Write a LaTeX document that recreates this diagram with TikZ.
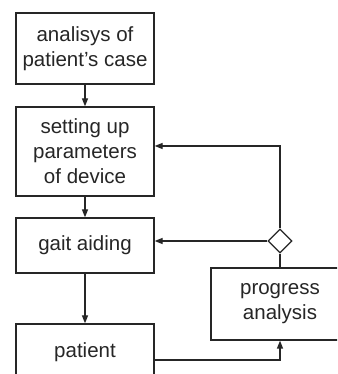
\documentclass[tikz,border=0pt]{standalone}
\usepackage{fontspec}
\setmainfont{Liberation Sans}
\usetikzlibrary{arrows.meta,shapes.geometric}

\tikzset{
  block/.style={draw, line width=1.3pt, minimum width=138pt, align=center,
    font=\fontsize{20.5}{25}\selectfont, inner sep=0pt},
  link/.style={line width=1.3pt, -{Triangle[length=8pt,width=6pt]}},
  plain/.style={line width=1.3pt}
}

\begin{document}
\begin{tikzpicture}[x=1pt,y=1pt,every node/.style={text=black!85},color=black!85]
\clip (0,0) rectangle (337,374);
\fill[white] (0,0) rectangle (337,374);
% blocks
\node[block, minimum height=71pt] (casea) at (85,325.5) {analisys of\\patient{\char"0027}s case};
\node[block, minimum height=89pt] (setup) at (85,222.5) {setting up\\parameters\\of device};
\node[block, minimum height=55pt] (gait) at (85,128.5) {gait aiding};
\node[block, minimum height=56pt] (pat) at (85,22) {patient};
\node[block, minimum height=72pt] (prog) at (280,70) {progress\\analysis};
\node[draw, diamond, line width=1.3pt, minimum width=24pt, minimum height=24pt, inner sep=0pt] (dec) at (280,133) {};
\coordinate (up) at (280,228);

% links
\draw[link] (casea) -- (setup);
\draw[link] (setup) -- (gait);
\draw[link] (gait) -- (pat);
\draw[link] (dec.west) -- (dec.west -| gait.east);
\draw[plain] (prog) -- (dec);
\draw[link] (dec.north) -- (up) -- (up -| setup.east);
\draw[link] ([yshift=-8pt]pat.east) -| (prog.south);
\end{tikzpicture}
\end{document}
